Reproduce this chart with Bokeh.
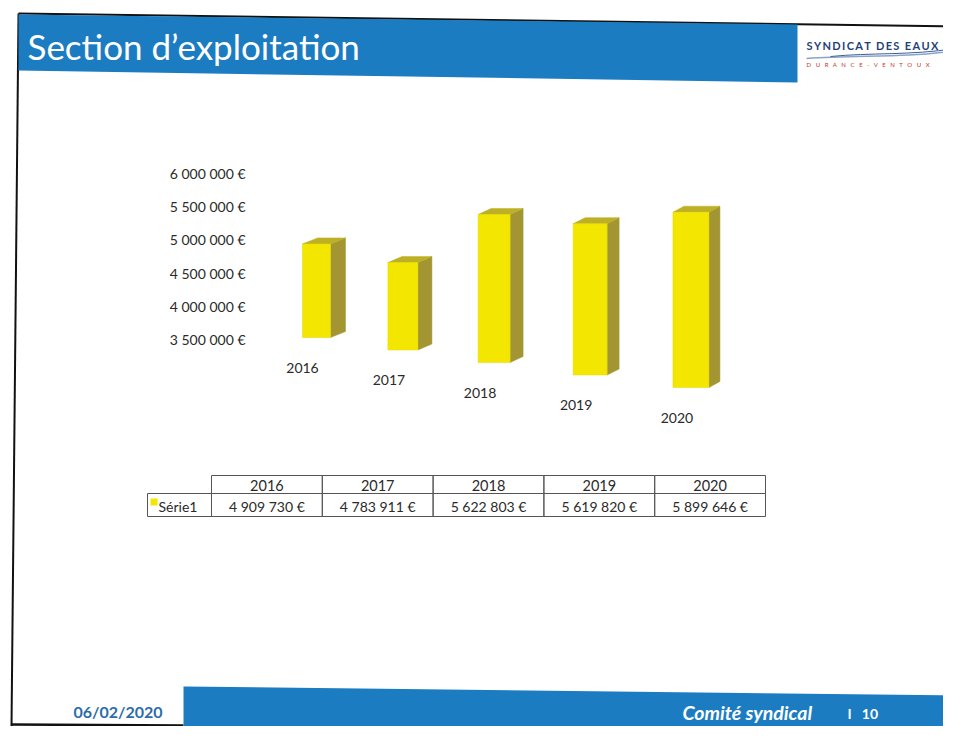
from bokeh.plotting import figure
from bokeh.models import Range1d
from bokeh.embed import file_html
from bokeh.resources import INLINE
from bokeh.core.properties import value

# ---------------- data ----------------
years = ["2016", "2017", "2018", "2019", "2020"]
amounts = [4909730, 4783911, 5622803, 5619820, 5899646]
tick_values = [3500000, 4000000, 4500000, 5000000, 5500000, 6000000]
series_name = "Série1"
slide_title = "Section d\u2019exploitation"
footer_date = "06/02/2020"
footer_text = "Comité syndical"
page_number = "10"


def euro(v):
    return f"{v:,}".replace(",", " ") + " \u20ac"


NB = "\u00a0"

# ---------------- styles ----------------
FONT = "Lato"
BLUE = "#1c7cc2"
FRONT = "#f3e600"
SIDE = "#a39632"
TOPC = "#bdb025"
TXT = "#2a2a2a"

W, H = 943, 726
# slide coordinates == picture pixels
p = figure(width=W, height=H, x_range=Range1d(0, W), y_range=Range1d(H, 0),
           output_backend="svg", toolbar_location=None, x_axis_type=None, y_axis_type=None,
           min_border=0, outline_line_color=None, background_fill_color="white",
           border_fill_color="white")
p.xgrid.visible = False
p.ygrid.visible = False

# value scale of the 3D chart (pixels per euro) and category scale
K = 166 / 2.5e6
BASE = tick_values[0]
BASE_Y = 339
p.extra_y_ranges = {"val": Range1d(start=BASE + (BASE_Y - H) / K, end=BASE + (BASE_Y - 0) / K)}
CAT_PX = 84
X0 = 316
p.extra_x_ranges = {"cat": Range1d(start=(0 - X0) / CAT_PX, end=(W - X0) / CAT_PX)}

# ---------------- slide decoration ----------------
# scanned page border
p.line([18, 960], [13, 26], line_color="#111111", line_width=2)
p.line([18, 11], [13, 726], line_color="#111111", line_width=2)
p.line([11, 183], [724, 725], line_color="#111111", line_width=2.5)

# header band
p.patch([18, 797, 797, 18], [14, 24, 82, 70], fill_color=BLUE, line_color=None)
p.text(x=[27], y=[45], text=[slide_title], text_color="white", text_font=value(FONT),
       text_font_size="35px", text_baseline="middle", text_align="left")

# logo
logo_top = "\u2009".join("SYNDICAT") + NB * 2 + "\u2009".join("DES") + NB * 2 + "\u2009".join("EAUX")
p.text(x=[806], y=[45], text=[logo_top], text_color="#1f3f7a", text_font=value(FONT),
       text_font_size="11px", text_font_style="bold", text_baseline="middle")
p.bezier(x0=[806], y0=[58], x1=[955], y1=[50], cx0=[860], cy0=[54], cx1=[900], cy1=[58],
         line_color="#8aa4c8", line_width=1.5)
p.bezier(x0=[830], y0=[56], x1=[955], y1=[48], cx0=[870], cy0=[52], cx1=[910], cy1=[55],
         line_color="#3c5f96", line_width=1)
p.text(x=[806], y=[64], text=[(NB * 3).join("DURANCE-VENTOUX")],
       text_color="#c0392b", text_font=value(FONT), text_font_size="6px",
       text_baseline="middle")

# footer band
p.patch([183, 960, 960, 183], [686, 695, 730, 730], fill_color=BLUE, line_color=None)
p.text(x=[73], y=[711], text=[footer_date], text_color="#2b6ca8", text_font=value(FONT),
       text_font_size="16px", text_font_style="bold", text_baseline="middle")
p.text(x=[682], y=[712], text=[footer_text], text_color="white", text_font=value(FONT),
       text_font_size="19.5px", text_font_style="bold italic", text_baseline="middle")
p.text(x=[847], y=[713], text=["I" + NB * 3 + page_number], text_color="white",
       text_font=value(FONT), text_font_size="14px", text_font_style="bold",
       text_baseline="middle")

# ---------------- y tick labels ----------------
p.text(x=[245] * len(tick_values), y=tick_values, y_range_name="val",
       text=[euro(t) for t in tick_values], text_color=TXT, text_font=value(FONT),
       text_font_size="14px", text_align="right", text_baseline="middle")

# ---------------- 3D perspective bars ----------------
xc, lefts, rights, bottoms, tops = [], [], [], [], []
side_xs, side_ys, top_xs, top_ys = [], [], [], []
for i, v in enumerate(amounts):
    c = i + 0.0286 * i * i                 # perspective spreading
    half = (28 + 2 * i) / 2 / CAT_PX        # front face half width
    d = (15 - i) / CAT_PX                   # depth to the right
    rise = 6 / K                            # depth upward
    bottom = BASE - (-2 + 12.5 * i) / K     # floor slants downward
    top = bottom + (v - BASE) * (1 + 0.025 * i)
    xl, xr = c - half, c + half
    xc.append(c); lefts.append(xl); rights.append(xr); bottoms.append(bottom); tops.append(top)
    side_xs.append([xr, xr, xr + d, xr + d])
    side_ys.append([bottom, top, top + rise, bottom + rise])
    top_xs.append([xl, xr, xr + d, xl + d])
    top_ys.append([top, top, top + rise, top + rise])

p.patches(side_xs, side_ys, x_range_name="cat", y_range_name="val",
          fill_color=SIDE, line_color=SIDE, line_width=0.5)
p.patches(top_xs, top_ys, x_range_name="cat", y_range_name="val",
          fill_color=TOPC, line_color=TOPC, line_width=0.5)
p.quad(left=lefts, right=rights, bottom=bottoms, top=tops, x_range_name="cat",
       y_range_name="val", fill_color=FRONT, line_color="#e6d800", line_width=0.5)

p.text(x=xc, y=bottoms, text=years, x_range_name="cat", y_range_name="val",
       x_offset=-14, y_offset=30, text_color=TXT, text_font=value(FONT),
       text_font_size="14px", text_align="center", text_baseline="middle")

# ---------------- data table ----------------
T_LEFT, C0, CW = 147, 211, 110.8
R0, R1, R2 = 475, 493, 516
n = len(years)
col_l = [C0 + CW * j for j in range(n)]
col_r = [C0 + CW * (j + 1) for j in range(n)]
p.quad(left=col_l, right=col_r, top=[R0] * n, bottom=[R1] * n, fill_color=None,
       line_color="#555555", line_width=1)
p.quad(left=[T_LEFT] + col_l, right=[C0] + col_r, top=[R1] * (n + 1), bottom=[R2] * (n + 1),
       fill_color=None, line_color="#555555", line_width=1)
centers = [(a + b) / 2 for a, b in zip(col_l, col_r)]
p.text(x=centers, y=[(R0 + R1) / 2 + 1] * n, text=years, text_color=TXT, text_font=value(FONT),
       text_font_size="14.5px", text_align="center", text_baseline="middle")
p.text(x=centers, y=[(R1 + R2) / 2 + 1] * n, text=[euro(v) for v in amounts], text_color=TXT,
       text_font=value(FONT), text_font_size="14px", text_align="center",
       text_baseline="middle")
p.quad(left=[150], right=[157], top=[498], bottom=[505], fill_color=FRONT, line_color=None)
p.text(x=[158], y=[(R1 + R2) / 2 + 1], text=[series_name], text_color=TXT,
       text_font=value(FONT), text_font_size="14px", text_align="left",
       text_baseline="middle")

open("out.html", "w").write(file_html(p, INLINE))
